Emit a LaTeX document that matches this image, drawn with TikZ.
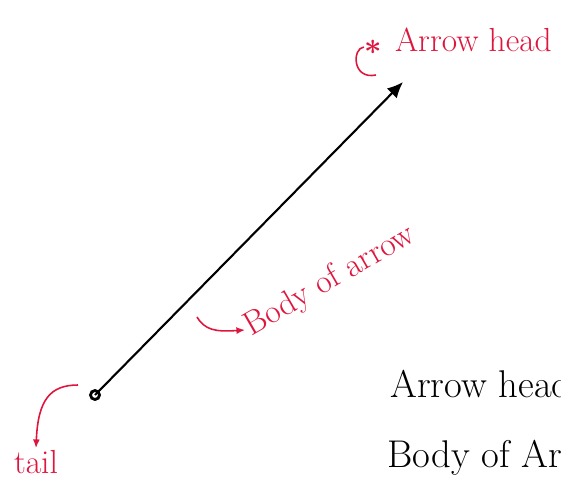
\documentclass[tikz,border=0pt]{standalone}
\usepackage{xcolor}
\usetikzlibrary{arrows.meta}
\definecolor{myred}{RGB}{222,22,62}

\begin{document}
\begin{tikzpicture}[x=0.02cm,y=-0.02cm,
  redtext/.style={text=myred,font=\fontsize{19}{22}\selectfont,inner sep=1pt},
  blacktext/.style={font=\fontsize{22}{26}\selectfont,anchor=west,inner sep=0pt},
  redline/.style={draw=myred,line width=0.9}]
\useasboundingbox (0,0) rectangle (561,484);
\clip (0,0) rectangle (561,484);

%arrow
\coordinate (T) at (95,395);
\coordinate (H) at (403,82);
\draw[-{Latex[length=9pt,width=8pt]}, line width=1.2] (T) -- (H);
\draw[line width=1.6] (T) circle[radius=0.09cm];

%arrow head label
\node[text=myred,inner sep=0pt,font=\LARGE\boldmath] (star) at (373,47) {$\ast$};
\node[redtext,anchor=west] (ahead) at (393,40) {Arrow head};
\coordinate (A1) at (376,75);
\draw[redline] (star.west) .. controls (352,48) and (352,80) .. (A1);

%body label
\node[redtext,rotate=30] (body) at (330,281) {Body of arrow};
\coordinate (B1) at (197,317);
\draw[redline,-{Latex[length=5pt,width=4pt]}] (B1) .. controls (205,330) and (215,332) .. (body.west);

%tail label
\node[redtext] (tl) at (36,462) {tail};
\coordinate (C1) at (78,385);
\draw[redline,-{Latex[length=5pt,width=4pt]}] (C1) .. controls (50,385) and (38,400) .. (tl.north);

%notes
\node[blacktext] (n1) at (390,384) {Arrow head};
\node[blacktext] (n2) at (387,458) {Body of Arrow};
\end{tikzpicture}
\end{document}
